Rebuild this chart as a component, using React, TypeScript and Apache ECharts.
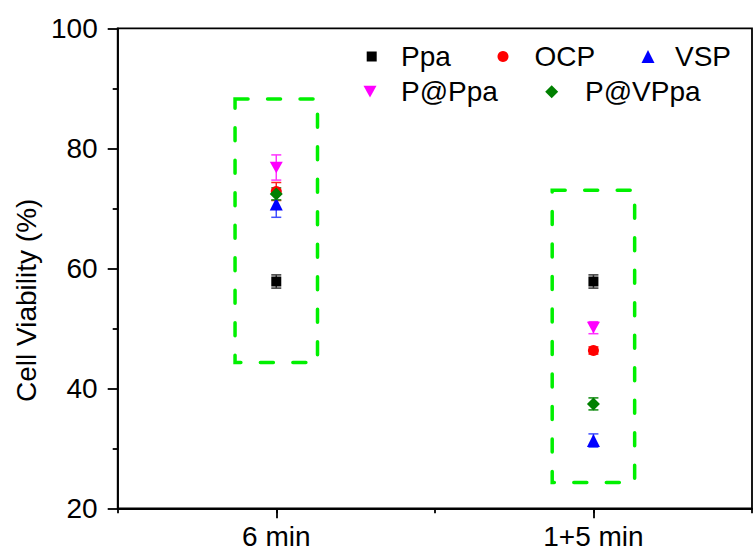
import React, { useEffect, useRef } from "react";
import * as echarts from "echarts";

// Treatment groups along the x axis
const categories = ["6 min", "1+5 min"];
const categoryPositions = [1, 2];

// Sample names
const seriesNames = ["Ppa", "OCP", "VSP", "P@Ppa", "P@VPpa"];

// Cell viability (%) means and standard deviations per group
const ppaMean = [57.8, 57.8];
const ppaErr = [1.1, 1.1];
const ocpMean = [72.8, 46.3];
const ocpErr = [1.5, 0.6];
const vspMean = [70.7, 31.3];
const vspErr = [2.2, 1.1];
const pPpaMean = [76.8, 50.1];
const pPpaErr = [2.1, 1.0];
const pVPpaMean = [72.4, 37.4];
const pVPpaErr = [1.0, 1.0];

// Y axis range and step
const yMin = 20;
const yMax = 100;
const yStep = 20;

// Dashed highlight regions around each group (data coordinates)
const boxXFrom = [0.87, 1.87];
const boxXTo = [1.13, 2.13];
const boxYFrom = [44.3, 24.3];
const boxYTo = [88.2, 73.0];

const means = [ppaMean, ocpMean, vspMean, pPpaMean, pVPpaMean];
const errs = [ppaErr, ocpErr, vspErr, pPpaErr, pVPpaErr];

const FONT = "'Liberation Sans', Arial, sans-serif";
const colors = ["#000000", "#ff0000", "#0000ff", "#ff00ff", "#008000"];
const barColors = ["#333333", "#ff2020", "#3f4fff", "#ff33ff", "#108a10"];
// downward-pointing triangle for P@Ppa
const triDown = "path://M0,0L10,0L5,9Z";
const symbols = ["rect", "circle", "triangle", triDown, "diamond"];
const symbolSizes = [10, 11, 13, 13, 13];

// Legend layout: marker centre x, row centre y, icon size, text inset
const legendLayout = [
  { cx: 371.7, cy: 56.5, s: 10, pad: 19.3 },
  { cx: 503, cy: 56.5, s: 11, pad: 21 },
  { cx: 648, cy: 56.5, s: 13, pad: 15.5 },
  { cx: 370, cy: 91.7, s: 13, pad: 19.5 },
  { cx: 551.7, cy: 91.7, s: 13, pad: 21.8 },
];

export default function App() {
  const ref = useRef<HTMLDivElement>(null);

  useEffect(() => {
    document.body.style.margin = "0";
    if (!ref.current) return;
    const chart = echarts.init(ref.current, undefined, { renderer: "svg" });

    const errorSeries = seriesNames.map((name, i) => ({
      type: "custom",
      name: name + "-err",
      xAxisIndex: 0,
      yAxisIndex: 0,
      z: 2,
      silent: true,
      data: categoryPositions.map((x, k) => [
        x,
        means[i][k] - errs[i][k],
        means[i][k] + errs[i][k],
      ]),
      encode: { x: 0, y: [1, 2] },
      renderItem: (params: any, api: any) => {
        const x = api.value(0);
        const top = api.coord([x, api.value(2)]);
        const bot = api.coord([x, api.value(1)]);
        const hw = 5;
        const st = { stroke: barColors[i], lineWidth: 1.5 };
        return {
          type: "group",
          children: [
            { type: "line", shape: { x1: top[0], y1: top[1], x2: bot[0], y2: bot[1] }, style: st },
            { type: "line", shape: { x1: top[0] - hw, y1: top[1], x2: top[0] + hw, y2: top[1] }, style: st },
            { type: "line", shape: { x1: bot[0] - hw, y1: bot[1], x2: bot[0] + hw, y2: bot[1] }, style: st },
          ],
        };
      },
    }));

    const pointSeries = seriesNames.map((name, i) => ({
      type: "scatter",
      name,
      xAxisIndex: 0,
      yAxisIndex: 0,
      z: 3,
      symbol: symbols[i],
      symbolSize: symbolSizes[i],
      symbolKeepAspect: true,
      itemStyle: { color: colors[i], opacity: 1 },
      data: categoryPositions.map((x, k) => [x, means[i][k]]),
      ...(i === 0
        ? {
            markArea: {
              silent: true,
              itemStyle: {
                color: "rgba(0,0,0,0)",
                borderColor: "#00f000",
                borderWidth: 3.5,
                borderType: [13, 19.5],
                borderCap: "round",
              },
              data: boxXFrom.map((x0, b) => [
                { coord: [x0, boxYTo[b]] },
                { coord: [boxXTo[b], boxYFrom[b]] },
              ]),
            },
          }
        : {}),
    }));

    const legends = seriesNames.map((name, i) => {
      const L = legendLayout[i];
      return {
        data: [{ name, icon: symbols[i] }],
        left: L.cx - L.s / 2,
        top: L.cy - 14,
        padding: 0,
        itemWidth: L.s,
        itemHeight: L.s,
        selectedMode: false,
        textStyle: {
          fontFamily: FONT,
          fontSize: 28,
          color: "#000",
          padding: [0, 0, 0, L.pad],
        },
      };
    });

    chart.setOption({
      animation: false,
      backgroundColor: "#ffffff",
      grid: {
        left: 117.7,
        top: 28.3,
        right: -5.5,
        bottom: 45.7,
        show: true,
        borderColor: "#000",
        borderWidth: 1.8,
        backgroundColor: "rgba(0,0,0,0)",
      },
      legend: legends,
      xAxis: [
        {
          type: "value",
          min: 0.5,
          max: 2.5,
          interval: 0.5,
          splitLine: { show: false },
          axisLine: { show: true, lineStyle: { color: "#000", width: 1.8 } },
          axisTick: { show: true, length: 5, lineStyle: { color: "#000", width: 1.8 } },
          axisLabel: {
            margin: 14,
            fontFamily: FONT,
            fontSize: 28,
            color: "#000",
            formatter: (v: number) => {
              const idx = categoryPositions.indexOf(v);
              return idx >= 0 ? categories[idx] : "";
            },
          },
        },
        {
          type: "category",
          position: "bottom",
          boundaryGap: false,
          data: ["0.5", "1", "1.5", "2", "2.5"],
          axisLine: { show: false },
          axisLabel: { show: false },
          axisTick: {
            show: true,
            length: 10,
            interval: (idx: number) => idx === 1 || idx === 3,
            lineStyle: { color: "#000", width: 1.8 },
          },
          splitLine: { show: false },
        },
      ],
      yAxis: {
        type: "value",
        min: yMin,
        max: yMax,
        interval: yStep,
        name: "Cell Viability (%)",
        nameLocation: "middle",
        nameGap: 75,
        nameTextStyle: {
          fontFamily: FONT,
          fontSize: 28,
          color: "#000",
          padding: [0, 64, 0, 0],
        },
        splitLine: { show: false },
        axisLine: { show: true, lineStyle: { color: "#000", width: 1.8 } },
        axisTick: { show: true, length: 10, lineStyle: { color: "#000", width: 1.8 } },
        minorTick: { show: true, splitNumber: 2, length: 5, lineStyle: { color: "#000", width: 1.8 } },
        axisLabel: { margin: 20, fontFamily: FONT, fontSize: 28, color: "#000" },
      },
      series: [...errorSeries, ...pointSeries],
    });

    return () => chart.dispose();
  }, []);

  return <div ref={ref} style={{ width: 755, height: 554 }} />;
}
